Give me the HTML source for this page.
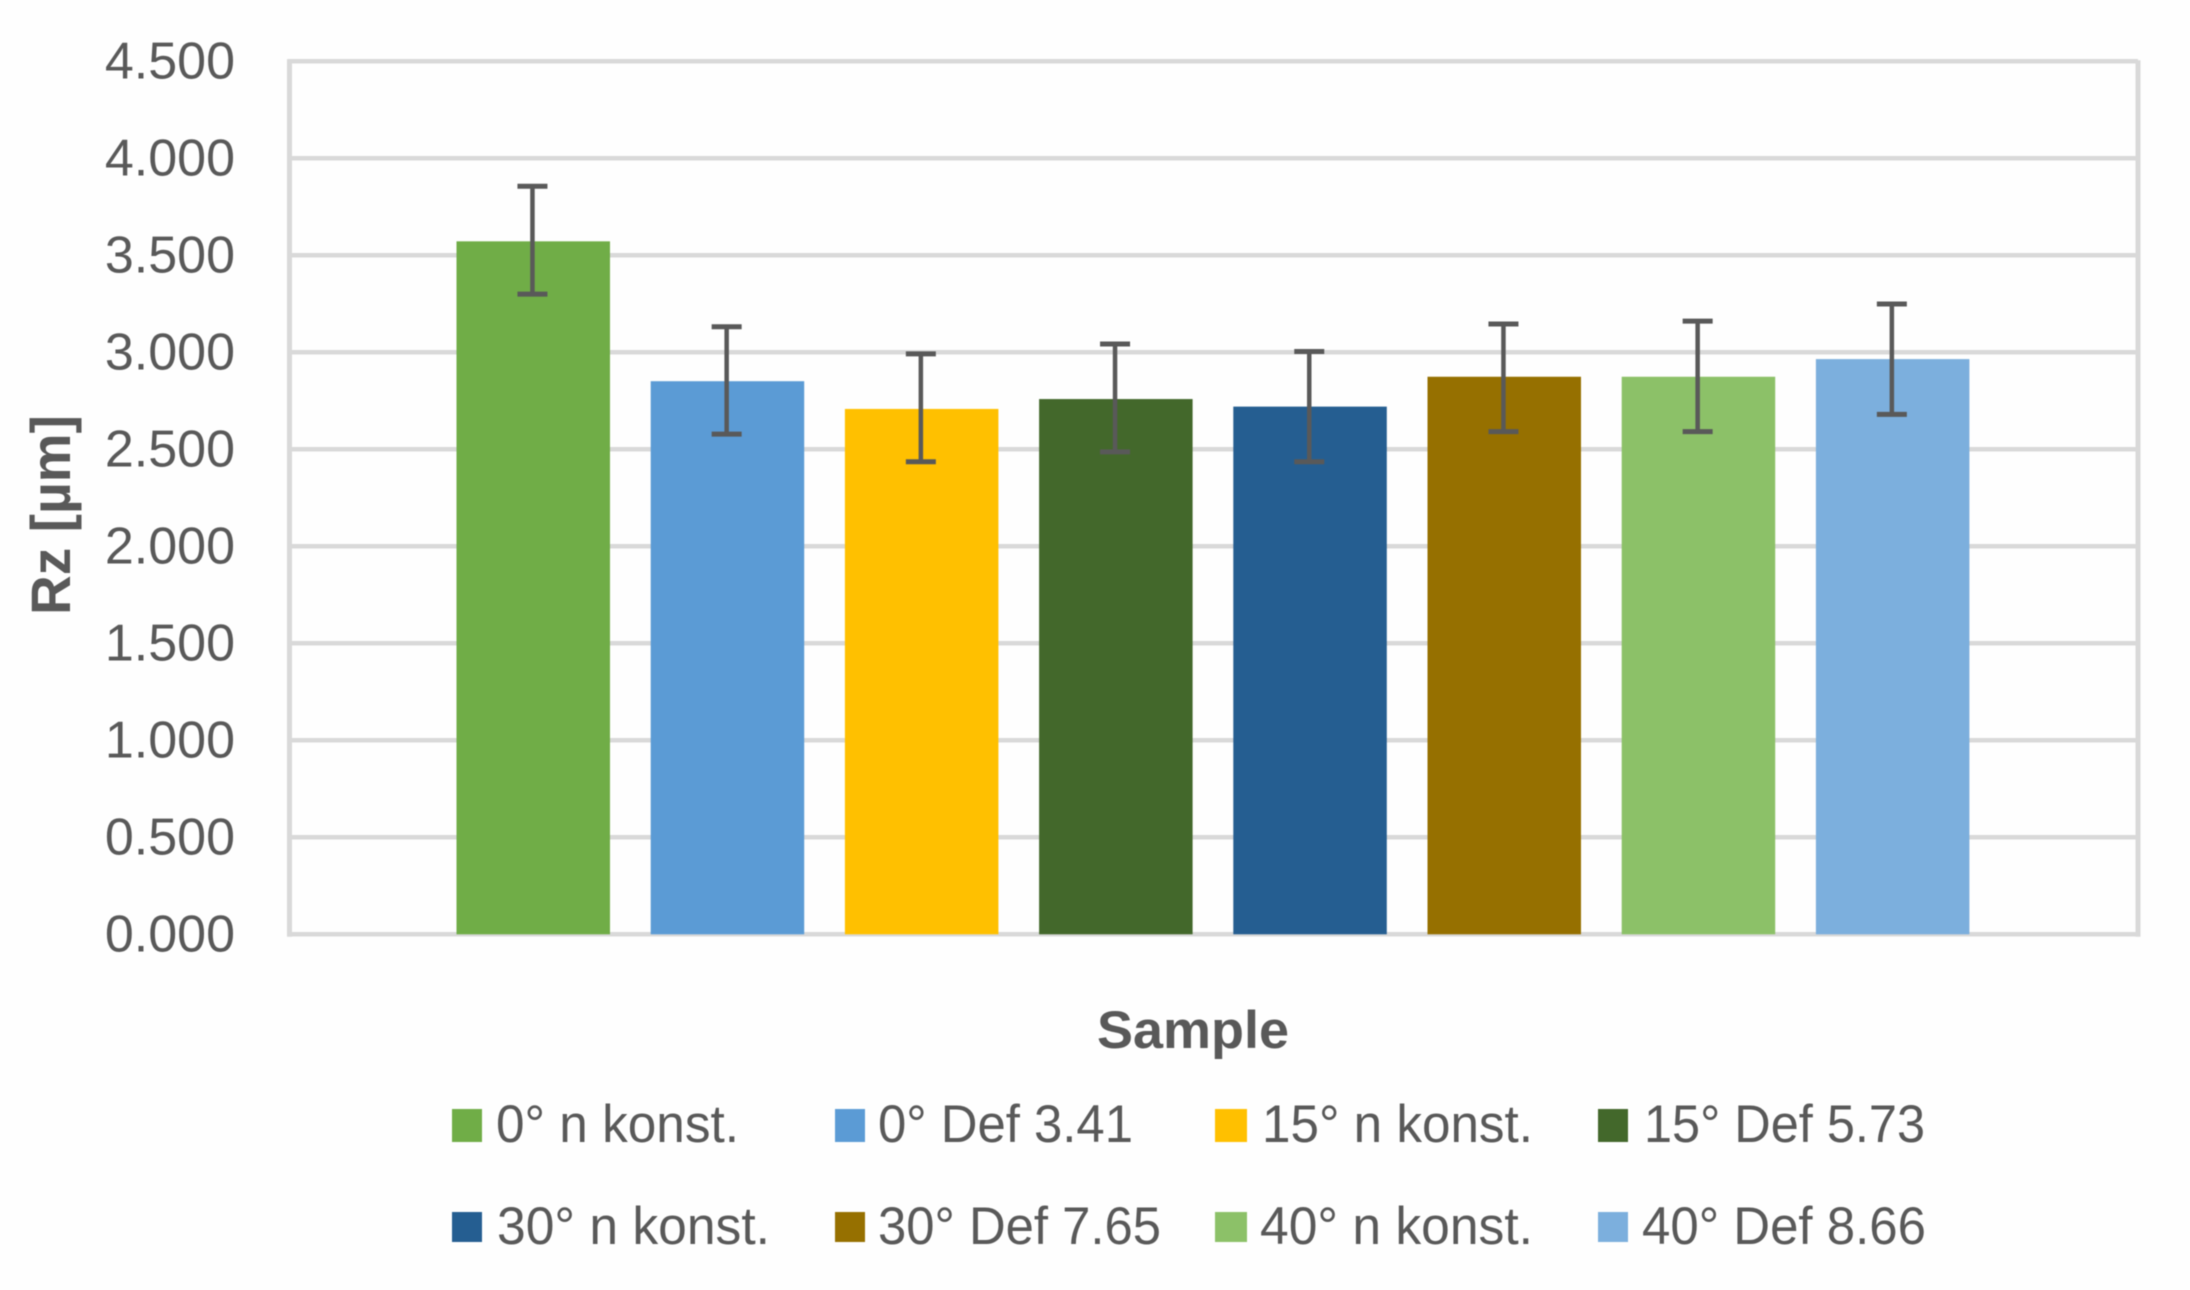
<!DOCTYPE html>
<html lang="en">
<head>
<meta charset="utf-8">
<title>Rz by sample</title>
<style>
html,body{margin:0;padding:0;background:#fff;width:2190px;height:1290px;overflow:hidden}
svg{display:block;filter:blur(.5px)}
text{font-family:"Liberation Sans",sans-serif;fill:#595959}
</style>
</head>
<body>
<svg id="chart" xmlns="http://www.w3.org/2000/svg" width="2190" height="1290" viewBox="0 0 2190 1290">
  <rect x="0" y="0" width="2190" height="1290" fill="#fefefe"/>
  <g id="grid"></g>
  <g id="bars"></g>
  <g id="errors"></g>
  <g id="ticks"></g>
  <text transform="translate(70 615) rotate(-90)" font-size="56" font-weight="700" textLength="200" lengthAdjust="spacingAndGlyphs">Rz [µm]</text>
  <text x="1097" y="1048" font-size="53" font-weight="700" textLength="192" lengthAdjust="spacingAndGlyphs">Sample</text>
  <g font-size="53">
    <g>
      <rect x="452" y="1109" width="30" height="33" fill="#70ad47"/>
      <text x="496" y="1142" textLength="243" lengthAdjust="spacingAndGlyphs">0° n konst.</text>
    </g>
    <g>
      <rect x="835" y="1109" width="30" height="33" fill="#5b9bd5"/>
      <text x="878" y="1142" textLength="255" lengthAdjust="spacingAndGlyphs">0° Def 3.41</text>
    </g>
    <g>
      <rect x="1215" y="1109" width="32" height="33" fill="#ffc000"/>
      <text x="1262" y="1142" textLength="271" lengthAdjust="spacingAndGlyphs">15° n konst.</text>
    </g>
    <g>
      <rect x="1598" y="1109" width="30" height="33" fill="#43682b"/>
      <text x="1644" y="1142" textLength="281" lengthAdjust="spacingAndGlyphs">15° Def 5.73</text>
    </g>
    <g>
      <rect x="452" y="1212" width="30" height="30" fill="#255e91"/>
      <text x="497" y="1244" textLength="273" lengthAdjust="spacingAndGlyphs">30° n konst.</text>
    </g>
    <g>
      <rect x="835" y="1212" width="30" height="30" fill="#967000"/>
      <text x="878" y="1244" textLength="283" lengthAdjust="spacingAndGlyphs">30° Def 7.65</text>
    </g>
    <g>
      <rect x="1215" y="1212" width="32" height="30" fill="#8cc168"/>
      <text x="1260" y="1244" textLength="273" lengthAdjust="spacingAndGlyphs">40° n konst.</text>
    </g>
    <g>
      <rect x="1598" y="1212" width="30" height="30" fill="#7cafdd"/>
      <text x="1642" y="1244" textLength="284" lengthAdjust="spacingAndGlyphs">40° Def 8.66</text>
    </g>
  </g>
</svg>
<script>
const categories = ["0° n konst.", "0° Def 3.41", "15° n konst.", "15° Def 5.73", "30° n konst.", "30° Def 7.65", "40° n konst.", "40° Def 8.66"];
const rzValues = [3.572, 2.851, 2.708, 2.759, 2.720, 2.874, 2.874, 2.965];
const errorPlus = [0.284, 0.281, 0.284, 0.284, 0.284, 0.272, 0.287, 0.284];
const errorMinus = [0.272, 0.273, 0.272, 0.272, 0.284, 0.283, 0.283, 0.285];
const tickValues = [0, 0.5, 1, 1.5, 2, 2.5, 3, 3.5, 4, 4.5];
const tickLabels = ["0.000", "0.500", "1.000", "1.500", "2.000", "2.500", "3.000", "3.500", "4.000", "4.500"];
const barColors = ["#70ad47", "#5b9bd5", "#ffc000", "#43682b", "#255e91", "#967000", "#8cc168", "#7cafdd"];

const NS = "http://www.w3.org/2000/svg";
const plotLeft = 289.5, plotRight = 2138, zeroY = 934.3, pxPerUnit = 194;
const barPitch = 194.2, barWidth = 153.5, capWidth = 30, clusterShift = -0.8, stemShift = -0.8;

function yScale(v) { return zeroY - v * pxPerUnit; }
function xScale(i) { return (plotLeft + plotRight) / 2 + clusterShift + (i - (categories.length - 1) / 2) * barPitch; }
function make(tag, attrs, parent) {
  const el = document.createElementNS(NS, tag);
  for (const k in attrs) el.setAttribute(k, attrs[k]);
  parent.appendChild(el);
  return el;
}

const grid = document.getElementById("grid");
const ticks = document.getElementById("ticks");
const barsG = document.getElementById("bars");
const errG = document.getElementById("errors");

tickValues.forEach(function (v, i) {
  const line = make("line", { x1: plotLeft - 2, x2: plotRight, y1: yScale(v), y2: yScale(v), stroke: "#d9d9d9", "stroke-width": 4.5 }, grid);
  
  
  const label = make("text", { x: 235, y: yScale(v) + 17, "text-anchor": "end", "font-size": 52 }, ticks);
  label.textContent = tickLabels[i];
  
  
});

const axisLeft = make("line", { x1: plotLeft, x2: plotLeft, y1: yScale(4.5) - 2, y2: zeroY + 2.5, stroke: "#d9d9d9", "stroke-width": 5 }, grid);


const axisRight = make("line", { x1: plotRight, x2: plotRight, y1: yScale(4.5) - 1, y2: zeroY + 2.5, stroke: "#d9d9d9", "stroke-width": 5 }, grid);



rzValues.forEach(function (v, i) {
  const cx = xScale(i);
  const sx = cx + stemShift;
  const top = yScale(v);
  const bar = make("rect", { x: cx - barWidth / 2, y: top, width: barWidth, height: zeroY - top, fill: barColors[i] }, barsG);
  
  
  const t = make("title", {}, bar);
  t.textContent = categories[i] + ": " + v.toFixed(3);

  const yHi = yScale(v + errorPlus[i]);
  const yLo = yScale(v - errorMinus[i]);
  const stem = make("line", { x1: sx, x2: sx, y1: yHi, y2: yLo, stroke: "#595959", "stroke-width": 4.5 }, errG);
  
  
  const capTop = make("line", { x1: sx - capWidth / 2, x2: sx + capWidth / 2, y1: yHi, y2: yHi, stroke: "#595959", "stroke-width": 5 }, errG);
  
  
  const capBottom = make("line", { x1: sx - capWidth / 2, x2: sx + capWidth / 2, y1: yLo, y2: yLo, stroke: "#595959", "stroke-width": 5 }, errG);
  
  
});
</script>
</body>
</html>
